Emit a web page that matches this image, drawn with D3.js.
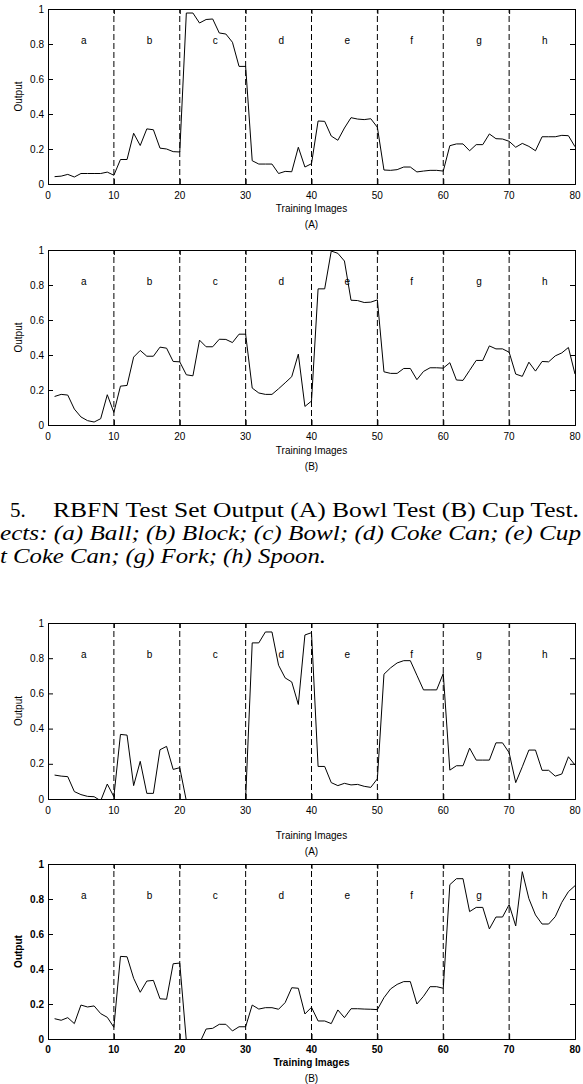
<!DOCTYPE html>
<html>
<head>
<meta charset="utf-8">
<script src="https://cdn.jsdelivr.net/npm/d3@7"></script>
<style>
  html, body { margin: 0; padding: 0; background: #fff; }
  svg { display: block; }
</style>
</head>
<body>
<script>
// ---------- data ----------
const categories = ["a", "b", "c", "d", "e", "f", "g", "h"];
const categoryStarts = [0, 10, 20, 30, 40, 50, 60, 70];
const xTickValues = [0, 10, 20, 30, 40, 50, 60, 70, 80];
const yTickValues = [0, 0.2, 0.4, 0.6, 0.8, 1];
const yTickLabels = ["0", "0.2", "0.4", "0.6", "0.8", "1"];
const xTickLabels = ["0", "10", "20", "30", "40", "50", "60", "70", "80"];

// Panel 1: RBFN test set output (A) Bowl test
const bowlTestA = [
  0.042, 0.045, 0.055, 0.040, 0.060, 0.060, 0.060, 0.060, 0.068, 0.050,
  0.140, 0.140, 0.290, 0.220, 0.315, 0.310, 0.205, 0.200, 0.185, 0.183,
  0.977, 0.977, 0.920, 0.940, 0.943, 0.863, 0.857, 0.810, 0.672, 0.672,
  0.133, 0.114, 0.114, 0.114, 0.060, 0.072, 0.070, 0.210, 0.097, 0.116,
  0.360, 0.358, 0.274, 0.250, 0.320, 0.379, 0.371, 0.368, 0.373, 0.324,
  0.080, 0.078, 0.082, 0.097, 0.097, 0.069, 0.074, 0.078, 0.078, 0.074,
  0.219, 0.229, 0.229, 0.190, 0.225, 0.225, 0.286, 0.259, 0.257, 0.244,
  0.210, 0.232, 0.215, 0.190, 0.270, 0.270, 0.270, 0.278, 0.276, 0.213
];
// Panel 2: RBFN test set output (B) Cup test
const cupTestB = [
  0.163, 0.175, 0.171, 0.091, 0.046, 0.025, 0.017, 0.036, 0.173, 0.072,
  0.222, 0.226, 0.388, 0.426, 0.393, 0.393, 0.445, 0.439, 0.363, 0.361,
  0.287, 0.281, 0.485, 0.447, 0.447, 0.490, 0.489, 0.471, 0.519, 0.519,
  0.211, 0.183, 0.175, 0.175, 0.207, 0.241, 0.276, 0.405, 0.106, 0.137,
  0.778, 0.778, 0.994, 0.981, 0.937, 0.713, 0.711, 0.700, 0.702, 0.715,
  0.304, 0.295, 0.295, 0.323, 0.323, 0.259, 0.306, 0.327, 0.327, 0.325,
  0.356, 0.257, 0.255, 0.312, 0.369, 0.369, 0.452, 0.435, 0.435, 0.416,
  0.291, 0.278, 0.359, 0.308, 0.363, 0.361, 0.395, 0.412, 0.443, 0.291
];
// Panel 3: second (A) test
const bowlTestA2 = [
  0.136, 0.130, 0.127, 0.042, 0.025, 0.015, 0.013, -0.010, 0.085, 0.013,
  0.367, 0.363, 0.076, 0.214, 0.032, 0.032, 0.280, 0.299, 0.168, 0.178,
  -0.010, -0.150, -0.200, -0.200, -0.200, -0.200, -0.200, -0.200, -0.150, 0.000,
  0.887, 0.887, 0.949, 0.949, 0.760, 0.688, 0.665, 0.537, 0.932, 0.945,
  0.185, 0.185, 0.093, 0.076, 0.089, 0.080, 0.083, 0.072, 0.066, 0.115,
  0.709, 0.745, 0.773, 0.786, 0.786, 0.703, 0.620, 0.620, 0.620, 0.713,
  0.164, 0.189, 0.189, 0.289, 0.221, 0.221, 0.221, 0.319, 0.319, 0.263,
  0.093, 0.183, 0.278, 0.278, 0.163, 0.163, 0.130, 0.142, 0.240, 0.193
];
// Panel 4: second (B) test
const cupTestB2 = [
  0.116, 0.107, 0.122, 0.088, 0.194, 0.183, 0.189, 0.145, 0.124, 0.067,
  0.472, 0.470, 0.347, 0.267, 0.331, 0.335, 0.230, 0.227, 0.430, 0.434,
  -0.010, -0.060, -0.025, 0.057, 0.061, 0.084, 0.084, 0.046, 0.070, 0.070,
  0.194, 0.171, 0.179, 0.179, 0.170, 0.208, 0.293, 0.290, 0.143, 0.181,
  0.103, 0.103, 0.088, 0.166, 0.122, 0.173, 0.173, 0.171, 0.170, 0.168,
  0.236, 0.286, 0.312, 0.328, 0.328, 0.200, 0.244, 0.299, 0.299, 0.290,
  0.882, 0.916, 0.916, 0.728, 0.752, 0.752, 0.629, 0.697, 0.697, 0.768,
  0.646, 0.956, 0.802, 0.709, 0.657, 0.657, 0.699, 0.781, 0.842, 0.876
];

const captionLine1Num = "5.";
const captionLine1 = "RBFN Test Set Output (A) Bowl Test (B) Cup Test.";
const captionLine2 = "ects: (a) Ball; (b) Block; (c) Bowl; (d) Coke Can; (e) Cup";
const captionLine3 = "t Coke Can; (g) Fork; (h) Spoon.";

// ---------- layout ----------
const W = 583, H = 1084;
const left = 48, right = 575;
const panels = [
  { values: bowlTestA,  top: 9,   bottom: 184,  tickY: 199,  titleY: 212,  subY: 228,  sub: "(A)", bold: false },
  { values: cupTestB,   top: 250, bottom: 425,  tickY: 440,  titleY: 454,  subY: 470,  sub: "(B)", bold: false },
  { values: bowlTestA2, top: 623, bottom: 799,  tickY: 814,  titleY: 839,  subY: 855,  sub: "(A)", bold: false },
  { values: cupTestB2,  top: 864, bottom: 1039, tickY: 1053, titleY: 1066, subY: 1082, sub: "(B)", bold: true }
];

const svg = d3.select("body").append("svg")
  .attr("width", W).attr("height", H)
  .style("font-family", "'Liberation Sans', Arial, Helvetica, sans-serif");

const x = d3.scaleLinear().domain([0, 80]).range([left, right]);

panels.forEach((p, i) => {
  const y = d3.scaleLinear().domain([0, 1]).range([p.bottom, p.top]);
  const g = svg.append("g");
  const fw = p.bold ? "bold" : "normal";

  const clipId = "clip" + i;
  svg.append("clipPath").attr("id", clipId)
    .append("rect").attr("x", left).attr("y", p.top)
    .attr("width", right - left).attr("height", p.bottom - p.top);

  // dashed separators
  g.selectAll("line.sep").data(categoryStarts.slice(1)).join("line")
    .attr("class", "sep")
    .attr("x1", d => x(d)).attr("x2", d => x(d))
    .attr("y1", y(0)).attr("y2", y(1))
    .attr("stroke", "#000").attr("stroke-width", 1)
    .attr("stroke-dasharray", "6,3");

  // category letters
  g.selectAll("text.cat").data(categories).join("text")
    .attr("class", "cat")
    .attr("x", (d, k) => x(categoryStarts[k] + 5))
    .attr("y", y(0.8) - 0.5)
    .attr("font-size", 10)
    .text(d => d);

  // data line
  const line = d3.line().x((d, k) => x(k + 1)).y(d => y(d));
  g.append("path").datum(p.values)
    .attr("clip-path", `url(#${clipId})`)
    .attr("d", line)
    .attr("fill", "none").attr("stroke", "#000").attr("stroke-width", 1);

  // axes (inward ticks on all four sides)
  const axB = d3.axisBottom(x).tickValues(xTickValues).tickSize(-5).tickFormat("");
  const axT = d3.axisTop(x).tickValues(xTickValues).tickSize(-5).tickFormat("");
  const axL = d3.axisLeft(y).tickValues(yTickValues).tickSize(-5).tickFormat("");
  const axR = d3.axisRight(y).tickValues(yTickValues).tickSize(-5).tickFormat("");
  [[axB, `translate(0,${p.bottom})`], [axT, `translate(0,${p.top})`],
   [axL, `translate(${left},0)`], [axR, `translate(${right},0)`]].forEach(([ax, tr]) => {
    const a = g.append("g").attr("transform", tr).call(ax);
    a.select(".domain").attr("stroke", "#000").attr("stroke-width", 1);
    a.selectAll(".tick line").attr("stroke", "#000");
  });

  // x tick labels
  g.selectAll("text.xt").data(xTickValues).join("text")
    .attr("class", "xt")
    .attr("x", d => x(d)).attr("y", p.tickY)
    .attr("text-anchor", "middle")
    .attr("font-size", 10).attr("font-weight", fw)
    .text((d, k) => xTickLabels[k]);

  // y tick labels
  g.selectAll("text.yt").data(yTickValues).join("text")
    .attr("class", "yt")
    .attr("x", left - 4).attr("y", d => y(d) + 3.5)
    .attr("text-anchor", "end")
    .attr("font-size", 10).attr("font-weight", fw)
    .text((d, k) => yTickLabels[k]);

  // axis titles
  g.append("text")
    .attr("transform", `translate(22,${(p.top + p.bottom) / 2}) rotate(-90)`)
    .attr("text-anchor", "middle")
    .attr("font-size", 10).attr("font-weight", fw)
    .text("Output");
  g.append("text")
    .attr("x", (left + right) / 2).attr("y", p.titleY)
    .attr("text-anchor", "middle")
    .attr("font-size", 10).attr("font-weight", fw)
    .text("Training Images");
  g.append("text")
    .attr("x", (left + right) / 2).attr("y", p.subY)
    .attr("text-anchor", "middle")
    .attr("font-size", 10)
    .text(p.sub);
});

// caption (Computer-Modern-like width via textLength)
const cap = svg.append("g")
  .style("font-family", "'Liberation Serif', 'DejaVu Serif', serif");
cap.append("text").attr("x", 10).attr("y", 517).attr("font-size", 21).text(captionLine1Num);
cap.append("text").attr("x", 53).attr("y", 517).attr("font-size", 21)
  .attr("textLength", 526).attr("lengthAdjust", "spacingAndGlyphs").text(captionLine1);
cap.append("text").attr("x", 0).attr("y", 540).attr("font-size", 21)
  .attr("font-style", "italic")
  .attr("textLength", 581).attr("lengthAdjust", "spacingAndGlyphs").text(captionLine2);
cap.append("text").attr("x", 0).attr("y", 563).attr("font-size", 21)
  .attr("font-style", "italic")
  .attr("textLength", 326).attr("lengthAdjust", "spacingAndGlyphs").text(captionLine3);
</script>
</body>
</html>
